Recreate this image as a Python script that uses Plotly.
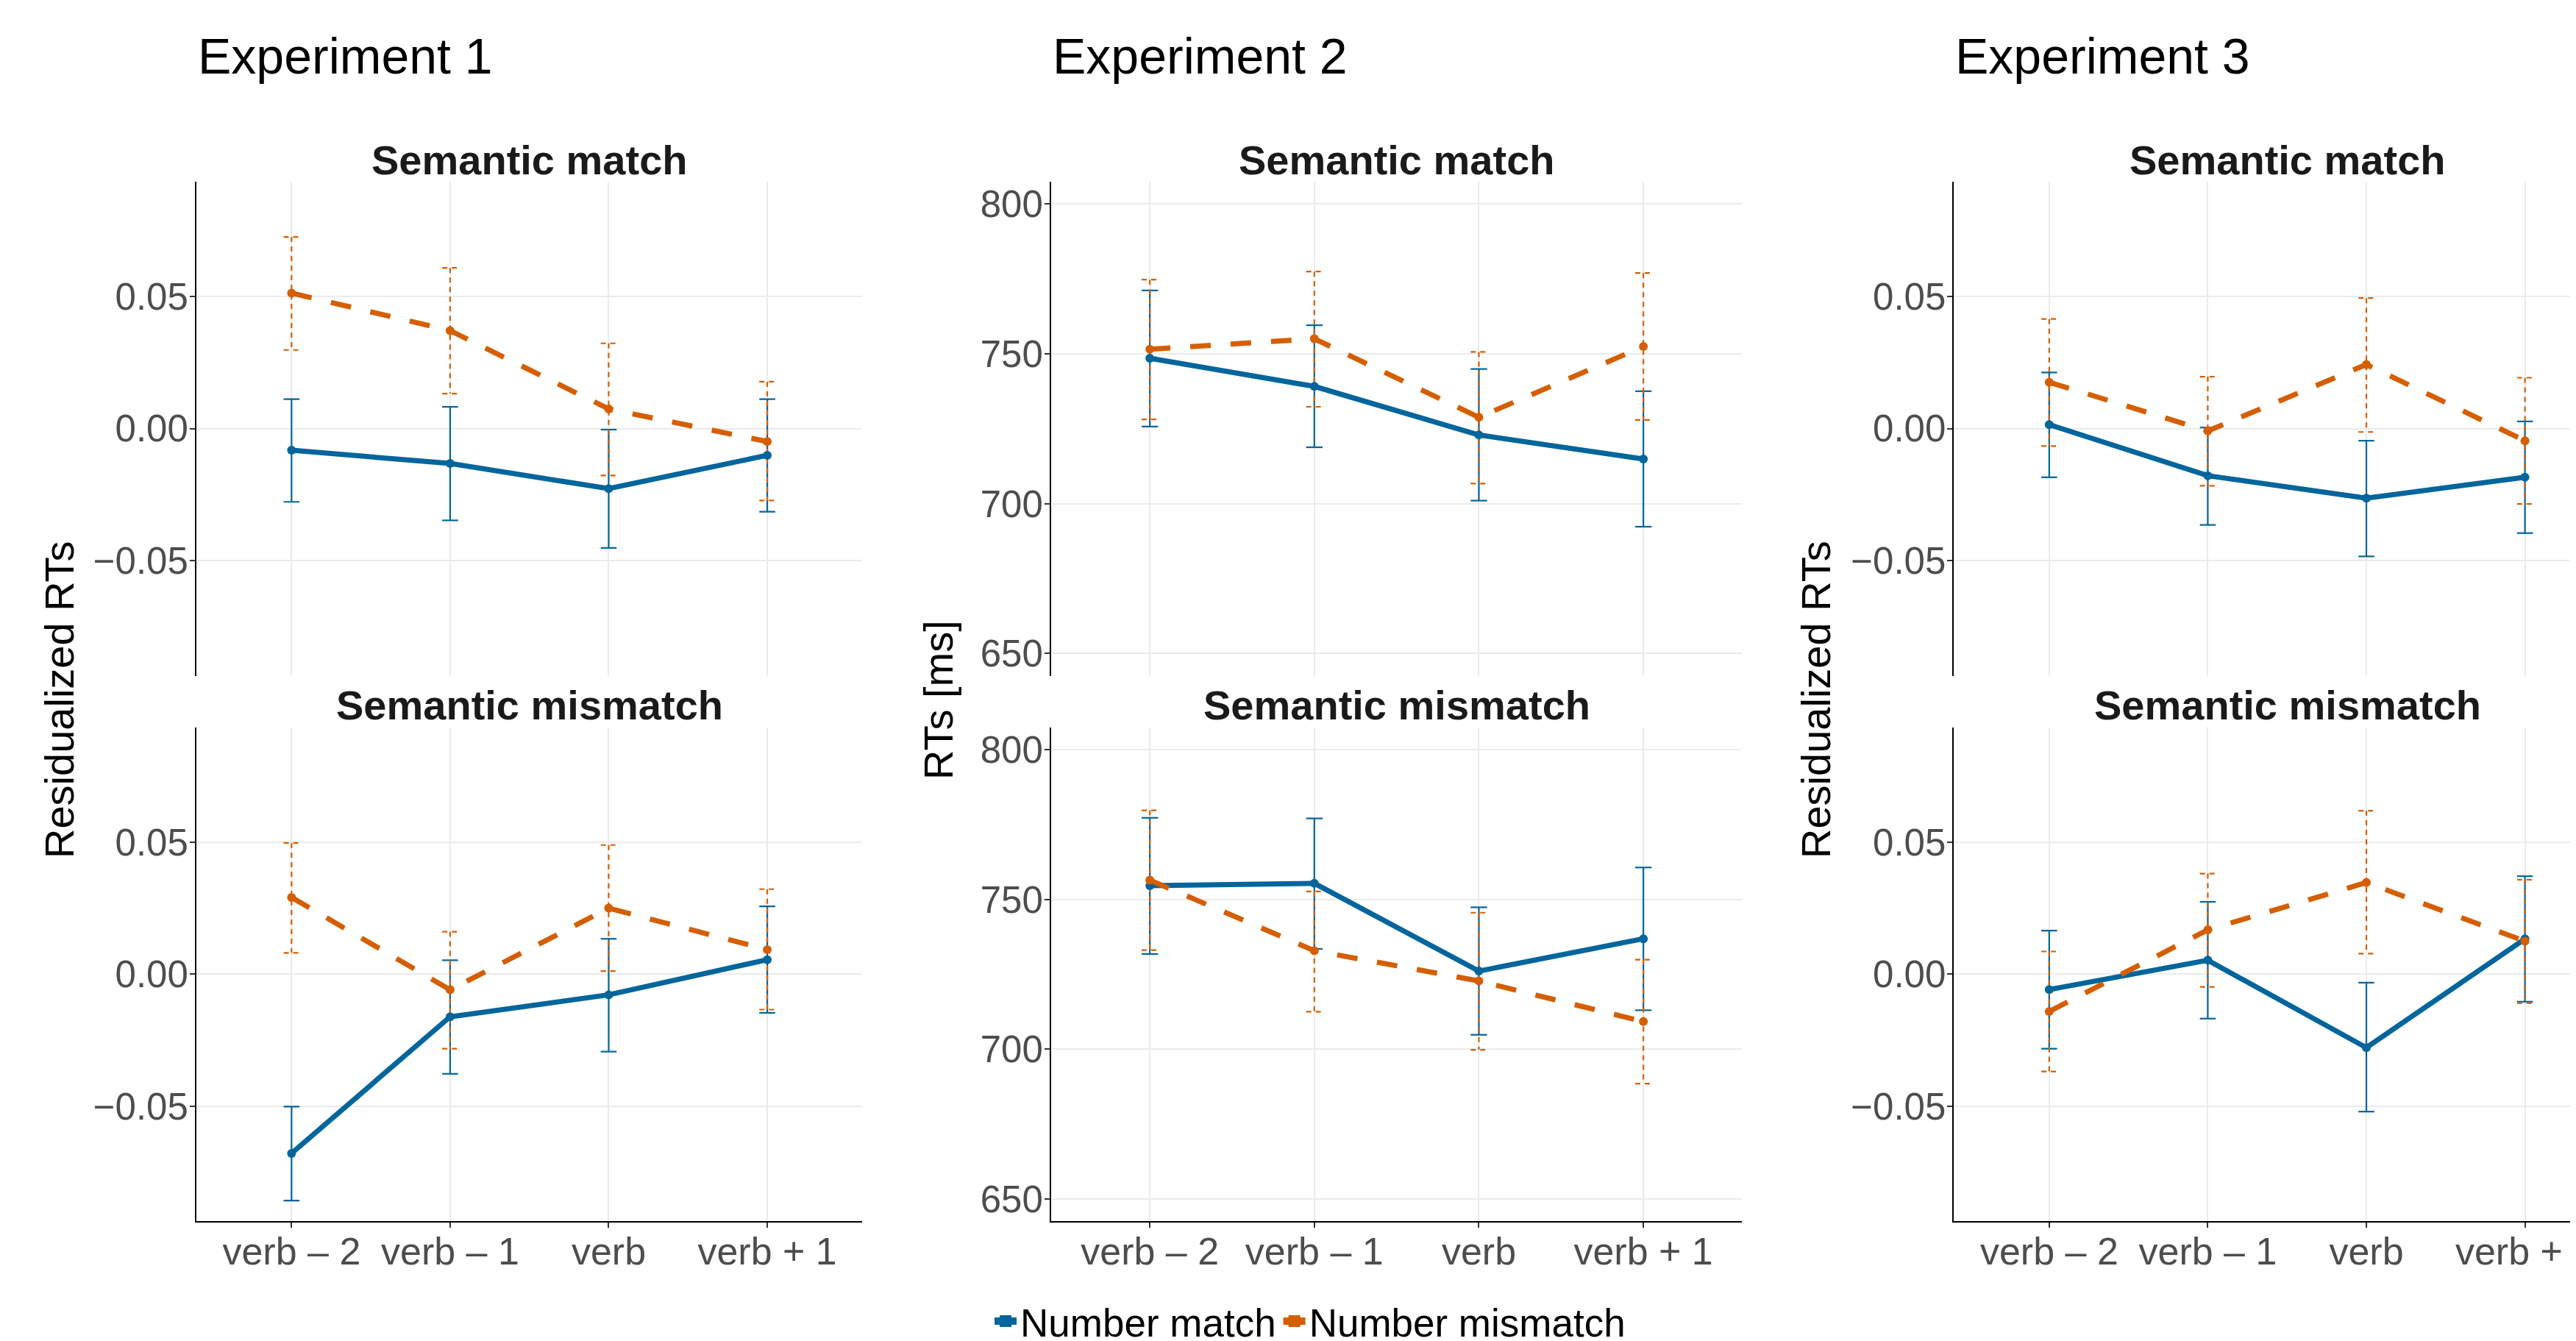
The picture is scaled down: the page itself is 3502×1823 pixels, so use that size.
import plotly.graph_objects as go

# ---------------- data ----------------
categories = ["verb – 2", "verb – 1", "verb", "verb + 1"]
experiments = ["Experiment 1", "Experiment 2", "Experiment 3"]
conditions = ["Semantic match", "Semantic mismatch"]
series_names = ["Number match", "Number mismatch"]
y_axis_titles = ["Residualized RTs", "RTs [ms]", "Residualized RTs"]

resid_ticks = [-0.05, 0.0, 0.05]
rt_ticks = [650, 700, 750, 800]

# Experiment 1 - Semantic match
e1_sm_nmatch = [-0.0082, -0.0132, -0.0227, -0.0101]
e1_sm_nmatch_lo = [-0.0277, -0.0347, -0.0451, -0.0314]
e1_sm_nmatch_hi = [0.0111, 0.0082, -0.0004, 0.0111]
e1_sm_nmis = [0.0512, 0.0370, 0.0074, -0.0049]
e1_sm_nmis_lo = [0.0297, 0.0132, -0.0177, -0.0272]
e1_sm_nmis_hi = [0.0724, 0.0607, 0.0322, 0.0177]
# Experiment 1 - Semantic mismatch
e1_smm_nmatch = [-0.0678, -0.0161, -0.0078, 0.0055]
e1_smm_nmatch_lo = [-0.0857, -0.0377, -0.0293, -0.0146]
e1_smm_nmatch_hi = [-0.0501, 0.0053, 0.0134, 0.0257]
e1_smm_nmis = [0.0291, -0.0059, 0.0250, 0.0093]
e1_smm_nmis_lo = [0.0081, -0.0282, 0.0012, -0.0134]
e1_smm_nmis_hi = [0.0497, 0.0161, 0.0489, 0.0322]

# Experiment 2 - Semantic match
e2_sm_nmatch = [748.5, 739.1, 722.9, 714.9]
e2_sm_nmatch_lo = [725.7, 718.8, 701.0, 692.3]
e2_sm_nmatch_hi = [771.1, 759.5, 744.9, 737.5]
e2_sm_nmis = [751.5, 755.0, 728.8, 752.4]
e2_sm_nmis_lo = [728.1, 732.3, 706.7, 727.9]
e2_sm_nmis_hi = [774.7, 777.4, 750.6, 776.9]
# Experiment 2 - Semantic mismatch
e2_smm_nmatch = [754.6, 755.4, 726.1, 736.9]
e2_smm_nmatch_lo = [731.8, 733.5, 704.8, 713.0]
e2_smm_nmatch_hi = [777.3, 777.1, 747.4, 760.7]
e2_smm_nmis = [756.5, 732.9, 722.8, 709.2]
e2_smm_nmis_lo = [733.1, 712.5, 699.8, 688.5]
e2_smm_nmis_hi = [779.8, 752.7, 745.6, 729.9]

# Experiment 3 - Semantic match
e3_sm_nmatch = [0.0015, -0.0178, -0.0263, -0.0184]
e3_sm_nmatch_lo = [-0.0184, -0.0364, -0.0483, -0.0395]
e3_sm_nmatch_hi = [0.0212, 0.0004, -0.0046, 0.0027]
e3_sm_nmis = [0.0175, -0.0009, 0.0242, -0.0046]
e3_sm_nmis_lo = [-0.0066, -0.0216, -0.0013, -0.0285]
e3_sm_nmis_hi = [0.0414, 0.0196, 0.0493, 0.0192]
# Experiment 3 - Semantic mismatch
e3_smm_nmatch = [-0.0058, 0.0053, -0.0278, 0.0134]
e3_smm_nmatch_lo = [-0.0282, -0.0168, -0.0520, -0.0104]
e3_smm_nmatch_hi = [0.0165, 0.0274, -0.0032, 0.0371]
e3_smm_nmis = [-0.0141, 0.0168, 0.0347, 0.0125]
e3_smm_nmis_lo = [-0.0368, -0.0048, 0.0078, -0.0109]
e3_smm_nmis_hi = [0.0086, 0.0381, 0.0619, 0.0358]

panels = [
    (0, 0, [(e1_sm_nmatch, e1_sm_nmatch_lo, e1_sm_nmatch_hi), (e1_sm_nmis, e1_sm_nmis_lo, e1_sm_nmis_hi)]),
    (0, 1, [(e1_smm_nmatch, e1_smm_nmatch_lo, e1_smm_nmatch_hi), (e1_smm_nmis, e1_smm_nmis_lo, e1_smm_nmis_hi)]),
    (1, 0, [(e2_sm_nmatch, e2_sm_nmatch_lo, e2_sm_nmatch_hi), (e2_sm_nmis, e2_sm_nmis_lo, e2_sm_nmis_hi)]),
    (1, 1, [(e2_smm_nmatch, e2_smm_nmatch_lo, e2_smm_nmatch_hi), (e2_smm_nmis, e2_smm_nmis_lo, e2_smm_nmis_hi)]),
    (2, 0, [(e3_sm_nmatch, e3_sm_nmatch_lo, e3_sm_nmatch_hi), (e3_sm_nmis, e3_sm_nmis_lo, e3_sm_nmis_hi)]),
    (2, 1, [(e3_smm_nmatch, e3_smm_nmatch_lo, e3_smm_nmatch_hi), (e3_smm_nmis, e3_smm_nmis_lo, e3_smm_nmis_hi)]),
]

# ---------------- styling / layout ----------------
# full-window figure; positions compensate the 8px page margin of the html body
W, H = 3502, 1823
FONT = "Liberation Sans, Arial, Helvetica, sans-serif"
BLUE = "#02659C"
ORANGE = "#D55E00"
GRID = "#EBEBEB"
TICKTXT = "#4D4D4D"

x_domains = [[0.07396, 0.33250], [0.40576, 0.67399], [0.75628, 1.0]]
x_ranges = [[-0.6, 3.6], [-0.6, 3.6], [-0.6, 3.359]]
panel_centers = [0.20323, 0.53986, 0.88569]  # centre of full (unclipped) panels
y_domains = [[0.50027, 0.86895], [0.09369, 0.46171]]
y_ranges = [[-0.0935, 0.0933], [642.5, 807.4], [-0.0935, 0.0933]]
y_tickvals = [resid_ticks, rt_ticks, resid_ticks]
y_tickfmt = [".2f", "d", ".2f"]

series_styles = [
    dict(color=BLUE, dash="solid", err_dash="solid"),
    dict(color=ORANGE, dash="28px,27px", err_dash="7px,6px"),
]
CAP = 0.05


def errorbar_xy(lo, hi):
    xs, ys = [], []
    for i, (l, h) in enumerate(zip(lo, hi)):
        xs += [i, i, None, i - CAP, i + CAP, None, i - CAP, i + CAP, None]
        ys += [h, l, None, h, h, None, l, l, None]
    return xs, ys


fig = go.Figure()
xpos = list(range(len(categories)))

for k, (ei, ci, series) in enumerate(panels):
    ax = "" if k == 0 else str(k + 1)
    for si, (mean, lo, hi) in enumerate(series):
        st = series_styles[si]
        ex, ey = errorbar_xy(lo, hi)
        fig.add_trace(go.Scatter(
            x=ex, y=ey, mode="lines", xaxis="x" + ax, yaxis="y" + ax,
            line=dict(color=st["color"], width=2.2, dash=st["err_dash"]),
            showlegend=False, hoverinfo="skip", connectgaps=False))
    for si, (mean, lo, hi) in enumerate(series):
        st = series_styles[si]
        fig.add_trace(go.Scatter(
            x=xpos, y=mean, mode="lines+markers", xaxis="x" + ax, yaxis="y" + ax,
            line=dict(color=st["color"], width=7, dash=st["dash"]),
            marker=dict(color=st["color"], size=12),
            name=series_names[si], showlegend=False))

    is_bottom = ci == 1
    fig.layout["xaxis" + ax] = dict(
        domain=x_domains[ei], range=x_ranges[ei], anchor="y" + ax,
        tickvals=xpos, ticktext=categories,
        showticklabels=is_bottom, ticks="outside" if is_bottom else "",
        ticklen=7, tickwidth=1.5, tickcolor="#333333",
        ticklabelstandoff=-13, ticklabeloverflow="allow",
        tickfont=dict(size=52, color=TICKTXT, family=FONT),
        showline=is_bottom, linecolor="black", linewidth=2,
        showgrid=True, gridcolor=GRID, gridwidth=2, zeroline=False,
        automargin=False, fixedrange=True)
    fig.layout["yaxis" + ax] = dict(
        domain=y_domains[ci], range=y_ranges[ei], anchor="x" + ax,
        tickvals=y_tickvals[ei], tickformat=y_tickfmt[ei],
        ticks="outside", ticklen=7, tickwidth=1.5, tickcolor="#333333",
        ticklabelstandoff=-8,
        tickfont=dict(size=51, color=TICKTXT, family=FONT),
        showline=True, linecolor="black", linewidth=2,
        showgrid=True, gridcolor=GRID, gridwidth=2, zeroline=False,
        automargin=False, fixedrange=True)

# legend-only traces (thick key like the reference)
for si, name in enumerate(series_names):
    fig.add_trace(go.Scatter(
        x=[None], y=[None], mode="lines+markers", name=name,
        line=dict(color=series_styles[si]["color"], width=14),
        marker=dict(color=series_styles[si]["color"], symbol="square", size=16),
        showlegend=True))

annotations = []
cond_title_y = [0.88535, 0.47888]
for ei, exp in enumerate(experiments):
    annotations.append(dict(
        text=exp, xref="paper", yref="paper", x=x_domains[ei][0], y=0.9627,
        xanchor="left", yanchor="middle", showarrow=False,
        font=dict(size=68, color="black", family=FONT)))
    for ci, cond in enumerate(conditions):
        annotations.append(dict(
            text="<b>" + cond + "</b>", xref="paper", yref="paper",
            x=panel_centers[ei], y=cond_title_y[ci],
            xanchor="center", yanchor="middle", showarrow=False,
            font=dict(size=56, color="#1A1A1A", family=FONT)))
ytitle_x = [0.02056, 0.36179, 0.70245]
for ei, t in enumerate(y_axis_titles):
    annotations.append(dict(
        text=t, xref="paper", yref="paper", x=ytitle_x[ei], y=0.48272,
        xanchor="center", yanchor="middle", textangle=-90, showarrow=False,
        font=dict(size=56, color="black", family=FONT)))

fig.update_layout(
    width=W, height=H, autosize=False,
    margin=dict(l=0, r=0, t=0, b=0, pad=0, autoexpand=False),
    paper_bgcolor="white", plot_bgcolor="white",
    font=dict(family=FONT, color="black"),
    annotations=annotations,
    legend=dict(orientation="h", x=0.5063, xanchor="center", y=0.0192,
                yanchor="middle", font=dict(size=53, color="black", family=FONT),
                bgcolor="rgba(0,0,0,0)", traceorder="normal"),
)

fig.write_html("out.html")
